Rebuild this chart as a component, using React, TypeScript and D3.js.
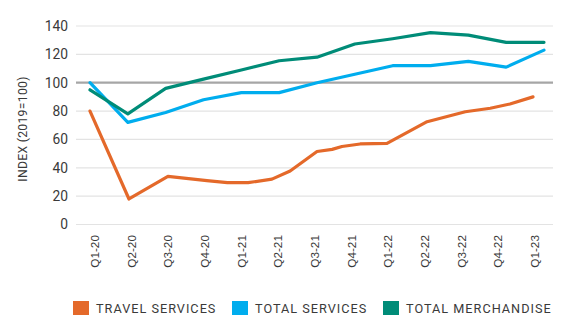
import React from "react";
import * as d3 from "d3";

const quarters = ["Q1-20","Q2-20","Q3-20","Q4-20","Q1-21","Q2-21","Q3-21","Q4-21","Q1-22","Q2-22","Q3-22","Q4-22","Q1-23"];
const totalServices = [100, 72, 79, 88, 93, 93, 100, 106, 112, 112, 115, 111, 123];
const totalMerchandise = [95, 78, 96, 102.5, 109, 115.5, 118, 127.3, 131, 135.3, 133.6, 128.5, 128.5];
// travel services: position (in quarter units) and value
const travelIdx = [0, 1.03, 2.06, 3.09, 3.63, 4.18, 4.81, 5.29, 6.0, 6.4, 6.66, 7.14, 7.85, 8.91, 9.92, 10.58, 11.1, 11.71];
const travelServices = [80, 18, 34, 31, 29.5, 29.5, 32, 37.7, 51.5, 53, 55, 56.8, 57.2, 72.5, 79.5, 82, 85, 90];
const yTicks = [0, 20, 40, 60, 80, 100, 120, 140];
const legendItems = [
  { label: "TRAVEL SERVICES", color: "#e4692a" },
  { label: "TOTAL SERVICES", color: "#00adee" },
  { label: "TOTAL MERCHANDISE", color: "#008c78" },
];

const W = 567, H = 333;

export default function App() {
  const x = d3.scaleLinear().domain([0, 12]).range([90, 544]);
  const xLab = d3.scalePoint<string>().domain(quarters).range([95, 535]);
  const y = d3.scaleLinear().domain([0, 140]).range([224.5, 26]);
  const line = d3.line<[number, number]>().x((d) => x(d[0])).y((d) => y(d[1]));
  const servPts = totalServices.map((v, i) => [i, v] as [number, number]);
  const merchPts = totalMerchandise.map((v, i) => [i, v] as [number, number]);
  const travPts = travelServices.map((v, i) => [travelIdx[i], v] as [number, number]);
  const legendX = [73, 232, 383];
  const textColor = "#3a3a3a";
  return (
    <svg width={W} height={H} style={{ position: "absolute", left: 0, top: 0, background: "#fff" }}>
      {yTicks.map((t) => (
        <g key={t}>
          <line x1={76} x2={553} y1={y(t)} y2={y(t)} stroke={t === 100 ? "#a6a6a6" : "#e3e3e3"} strokeWidth={t === 100 ? 2.2 : 1.2} />
          <text x={68} y={y(t)} dy="0.36em" textAnchor="end" fontFamily="Roboto" fontSize={13.8} fill={textColor}>{t}</text>
        </g>
      ))}
      <text transform={`translate(27,129) rotate(-90)`} textAnchor="middle" fontFamily="Roboto" fontSize={12.2} fill={textColor} letterSpacing={0.3}>INDEX (2019=100)</text>
      {quarters.map((q) => (
        <text key={q} transform={`translate(${xLab(q)},235) rotate(-90)`} dy="0.35em" textAnchor="end" fontFamily="Liberation Sans, Arial" fontSize={11.8} fill={textColor}>{q}</text>
      ))}
      <path d={line(travPts) || ""} fill="none" stroke={legendItems[0].color} strokeWidth={3.2} strokeLinejoin="round" strokeLinecap="round" />
      <path d={line(servPts) || ""} fill="none" stroke={legendItems[1].color} strokeWidth={3.2} strokeLinejoin="round" strokeLinecap="round" />
      <path d={line(merchPts) || ""} fill="none" stroke={legendItems[2].color} strokeWidth={3.2} strokeLinejoin="round" strokeLinecap="round" />
      {legendItems.map((it, i) => (
        <g key={it.label}>
          <rect x={legendX[i]} y={301} width={16} height={14} fill={it.color} />
          <text x={legendX[i] + 23} y={313} fontFamily="Roboto" fontSize={12.7} letterSpacing={1.0} fill={textColor}>{it.label}</text>
        </g>
      ))}
    </svg>
  );
}
